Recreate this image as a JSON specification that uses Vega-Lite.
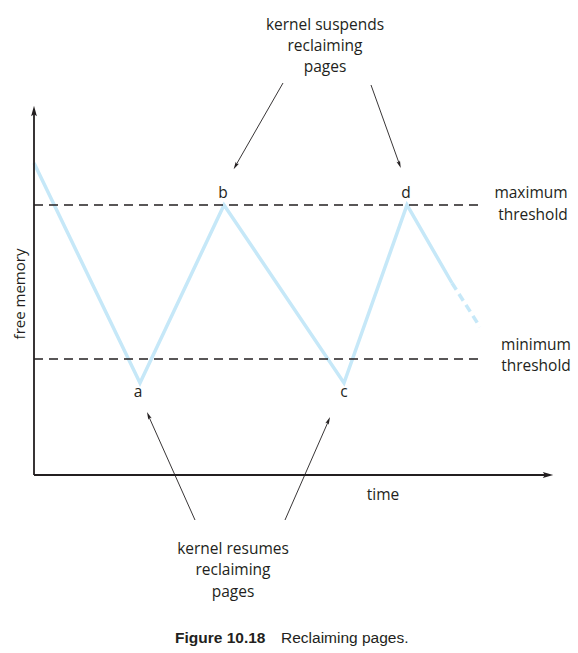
{
  "$schema": "https://vega.github.io/schema/vega-lite/v6.json",
  "width": 578,
  "height": 653,
  "autosize": {"type": "none"},
  "padding": 0,
  "background": "white",
  "config": {"view": {"stroke": null}},
  "datasets": {
    "lines": [
      {"id": "yaxis", "kind": "axis", "o": 1, "t": 0, "m": 0},
      {"id": "yaxis", "kind": "axis", "o": 2, "t": 0, "m": 36.5},
      {"id": "xaxis", "kind": "axis", "o": 1, "t": 0, "m": 0},
      {"id": "xaxis", "kind": "axis", "o": 2, "t": 51.5, "m": 0},
      {"id": "max", "kind": "threshold", "o": 1, "t": 0, "m": 27},
      {"id": "max", "kind": "threshold", "o": 2, "t": 44.6, "m": 27},
      {"id": "min", "kind": "threshold", "o": 1, "t": 0, "m": 11.6},
      {"id": "min", "kind": "threshold", "o": 2, "t": 44.6, "m": 11.6},
      {"id": "mem", "kind": "memory", "o": 1, "t": 0, "m": 31.2},
      {"id": "mem", "kind": "memory", "o": 2, "t": 10.6, "m": 9.2},
      {"id": "mem", "kind": "memory", "o": 3, "t": 19.0, "m": 27},
      {"id": "mem", "kind": "memory", "o": 4, "t": 31.0, "m": 9.2},
      {"id": "mem", "kind": "memory", "o": 5, "t": 37.3, "m": 27},
      {"id": "mem", "kind": "memory", "o": 6, "t": 41.8, "m": 19.2},
      {"id": "tail", "kind": "tail", "o": 1, "t": 41.8, "m": 19.2},
      {"id": "tail", "kind": "tail", "o": 2, "t": 44.6, "m": 14.8},
      {"id": "p1", "kind": "pointer", "o": 1, "t": 24.9, "m": 39.2},
      {"id": "p1", "kind": "pointer", "o": 2, "t": 20.2, "m": 31.0},
      {"id": "p2", "kind": "pointer", "o": 1, "t": 33.7, "m": 39.0},
      {"id": "p2", "kind": "pointer", "o": 2, "t": 36.5, "m": 31.2},
      {"id": "p3", "kind": "pointer", "o": 1, "t": 16.1, "m": -4.5},
      {"id": "p3", "kind": "pointer", "o": 2, "t": 11.5, "m": 5.8},
      {"id": "p4", "kind": "pointer", "o": 1, "t": 25.1, "m": -4.5},
      {"id": "p4", "kind": "pointer", "o": 2, "t": 29.4, "m": 5.3}
    ],
    "heads": [
      {"t": 0, "m": 36.4, "angle": 0, "kind": "axis"},
      {"t": 51.4, "m": 0, "angle": 90, "kind": "axis"},
      {"t": 20.15, "m": 30.9, "angle": 210, "kind": "pointer"},
      {"t": 36.55, "m": 31.05, "angle": 160, "kind": "pointer"},
      {"t": 11.45, "m": 5.95, "angle": 336, "kind": "pointer"},
      {"t": 29.45, "m": 5.45, "angle": 24, "kind": "pointer"}
    ],
    "labels": [
      {"t": 18.9, "m": 28.2, "label": "b"},
      {"t": 37.2, "m": 28.2, "label": "d"},
      {"t": 10.4, "m": 8.3, "label": "a"},
      {"t": 31.0, "m": 8.3, "label": "c"},
      {"t": 49.7, "m": 28.2, "label": "maximum"},
      {"t": 49.9, "m": 26.0, "label": "threshold"},
      {"t": 50.2, "m": 13.0, "label": "minimum"},
      {"t": 50.2, "m": 10.9, "label": "threshold"},
      {"t": 34.9, "m": -2.0, "label": "time"},
      {"t": 29.1, "m": 45.0, "label": "kernel suspends"},
      {"t": 29.1, "m": 42.9, "label": "reclaiming"},
      {"t": 29.1, "m": 40.8, "label": "pages"},
      {"t": 19.9, "m": -7.4, "label": "kernel resumes"},
      {"t": 19.9, "m": -9.5, "label": "reclaiming"},
      {"t": 19.9, "m": -11.7, "label": "pages"}
    ]
  },
  "encoding": {
    "x": {"field": "t", "type": "quantitative", "axis": null, "scale": {"domain": [-3.4, 54.4], "nice": false, "zero": false}},
    "y": {"field": "m", "type": "quantitative", "axis": null, "scale": {"domain": [-17.8, 47.5], "nice": false, "zero": false}}
  },
  "layer": [
    {
      "data": {"name": "lines"},
      "transform": [{"filter": "datum.kind === 'memory'"}],
      "mark": {"type": "line", "stroke": "#c6e8f8", "strokeWidth": 3.5, "strokeJoin": "miter", "strokeCap": "butt"},
      "encoding": {"detail": {"field": "id"}, "order": {"field": "o", "type": "quantitative"}}
    },
    {
      "data": {"name": "lines"},
      "transform": [{"filter": "datum.kind === 'tail'"}],
      "mark": {"type": "line", "stroke": "#c6e8f8", "strokeWidth": 3.5, "strokeDash": [8, 5], "strokeCap": "butt"},
      "encoding": {"detail": {"field": "id"}, "order": {"field": "o", "type": "quantitative"}}
    },
    {
      "data": {"name": "lines"},
      "transform": [{"filter": "datum.kind === 'threshold'"}],
      "mark": {"type": "line", "stroke": "#231f20", "strokeWidth": 1.4, "strokeDash": [9, 6], "strokeCap": "butt"},
      "encoding": {"detail": {"field": "id"}, "order": {"field": "o", "type": "quantitative"}}
    },
    {
      "data": {"name": "lines"},
      "transform": [{"filter": "datum.kind === 'axis'"}],
      "mark": {"type": "line", "stroke": "#231f20", "strokeWidth": 1.8, "strokeCap": "butt"},
      "encoding": {"detail": {"field": "id"}, "order": {"field": "o", "type": "quantitative"}}
    },
    {
      "data": {"name": "lines"},
      "transform": [{"filter": "datum.kind === 'pointer'"}],
      "mark": {"type": "line", "stroke": "#231f20", "strokeWidth": 0.9, "strokeCap": "butt"},
      "encoding": {"detail": {"field": "id"}, "order": {"field": "o", "type": "quantitative"}}
    },
    {
      "data": {"name": "heads"},
      "transform": [{"filter": "datum.kind === 'axis'"}],
      "mark": {"type": "point", "shape": "M0,-1L0.55,1L0,0.6L-0.55,1Z", "filled": true, "color": "#231f20", "opacity": 1, "size": 110},
      "encoding": {"angle": {"field": "angle", "type": "quantitative", "scale": null}}
    },
    {
      "data": {"name": "heads"},
      "transform": [{"filter": "datum.kind === 'pointer'"}],
      "mark": {"type": "point", "shape": "M0,-1L0.5,1L0,0.6L-0.5,1Z", "filled": true, "color": "#231f20", "opacity": 1, "size": 55},
      "encoding": {"angle": {"field": "angle", "type": "quantitative", "scale": null}}
    },
    {
      "data": {"name": "labels"},
      "mark": {"type": "text", "font": "Open Sans", "fontSize": 15.5, "color": "#231f20", "align": "center", "baseline": "middle"},
      "encoding": {"text": {"field": "label"}}
    },
    {
      "data": {"values": [{"t": -1.4, "m": 18.1, "label": "free memory"}]},
      "mark": {"type": "text", "font": "Open Sans", "fontSize": 15, "color": "#231f20", "align": "center", "baseline": "middle", "angle": 270},
      "encoding": {"text": {"field": "label"}}
    },
    {
      "data": {"values": [{"t": 14.1, "m": -16.3, "label": "Figure 10.18"}]},
      "mark": {"type": "text", "font": "Liberation Sans", "fontWeight": "bold", "fontSize": 15.5, "color": "#231f20", "align": "left", "baseline": "middle"},
      "encoding": {"text": {"field": "label"}}
    },
    {
      "data": {"values": [{"t": 24.7, "m": -16.3, "label": "Reclaiming pages."}]},
      "mark": {"type": "text", "font": "Liberation Sans", "fontSize": 15.5, "color": "#231f20", "align": "left", "baseline": "middle"},
      "encoding": {"text": {"field": "label"}}
    }
  ]
}
